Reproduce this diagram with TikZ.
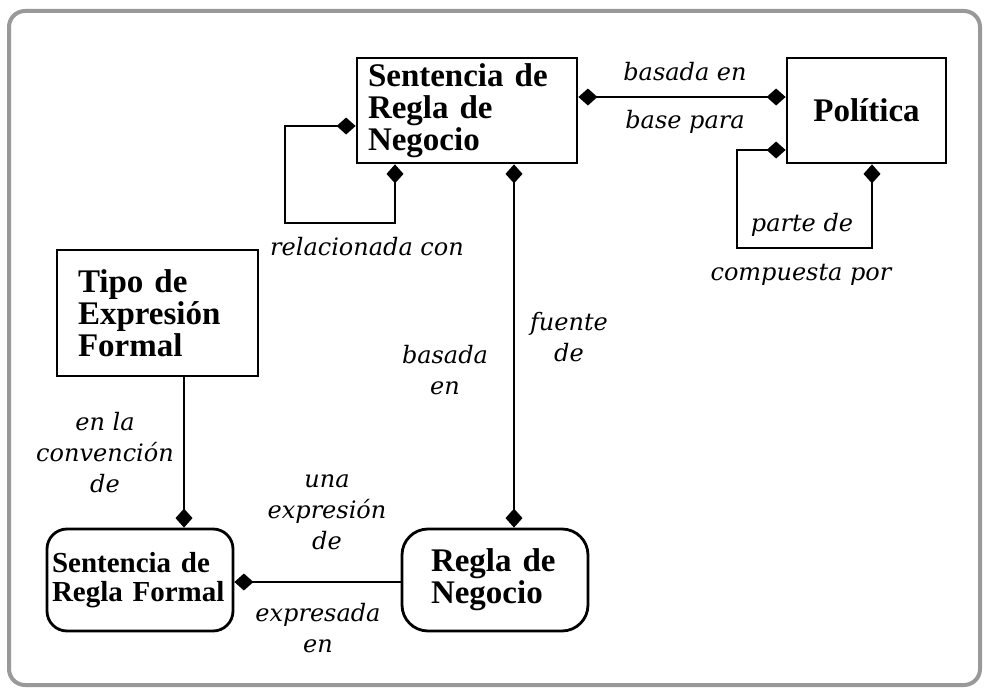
\documentclass[tikz,border=0pt]{standalone}
\usepackage{fontspec}
\setmainfont{Liberation Serif}
\newfontfamily\labfont{DejaVu Serif}
\usetikzlibrary{arrows.meta}
\tikzset{
  ent/.style={draw, line width=2.8pt, font=\bfseries\fontsize{33}{32}\selectfont, inner sep=0pt, align=left},
  lab/.style={font=\labfont\itshape\fontsize{24}{31}\selectfont, align=center, inner sep=0pt},
  conn/.style={line width=2.8pt},
  dia/.tip={Diamond[length=19pt,width=17pt]}
}
\begin{document}
\begin{tikzpicture}[x=1pt,y=-1pt]
\useasboundingbox (0,0) rectangle (988,693);
\draw[line width=4pt, gray!80, rounded corners=16pt] (9,11) rectangle (980,685);
% entities
\node[ent, minimum width=220pt, minimum height=105pt, text width=198pt] (srn) at (467,110.5) {Sentencia de\\Regla de\\Negocio};
\node[ent, minimum width=159pt, minimum height=105pt, align=center] (pol) at (866.5,110.5) {Política};
\node[ent, minimum width=201pt, minimum height=126pt, text width=159pt] (tipo) at (157.5,313) {Tipo de\\Expresión\\Formal};
\node[ent, rounded corners=20pt, minimum width=186pt, minimum height=102pt, text width=176pt, font=\bfseries\fontsize{29}{29}\selectfont] (srf) at (140,580) {Sentencia de\\Regla Formal};
\node[ent, rounded corners=26pt, minimum width=186pt, minimum height=102pt, text width=128pt] (rn) at (495,580) {Regla de\\Negocio};
% corner coordinates of loops
\coordinate (l1) at (285,223);
\coordinate (p1) at (737,248);
% connectors
\draw[conn, dia-dia] ([yshift=13.5pt]srn.east) -- ([yshift=13.5pt]pol.west);
\draw[conn, dia-dia] ([yshift=-15.5pt]srn.west) -| (l1) -| ([xshift=-72pt]srn.south);
\draw[conn, dia-dia] ([xshift=47pt]srn.south) -- ([xshift=47pt]srn.south |- rn.north);
\draw[conn, dia-dia] ([yshift=-39.5pt]pol.west) -| (p1) -| ([xshift=5.5pt]pol.south);
\draw[conn, -dia] ([xshift=26.5pt]tipo.south) -- ([xshift=26.5pt]tipo.south |- srf.north);
\draw[conn, dia-] ([yshift=-2pt]srf.east) -- ([yshift=-2pt]rn.west);
% labels
\node[lab] (t1) at (685,72) {basada en};
\node[lab] (t2) at (685,122) {base para};
\node[lab] (t3) at (367,247) {relacionada con};
\node[lab] (t4) at (569,337) {fuente\\de};
\node[lab] (t5) at (445,370) {basada\\en};
\node[lab] (t6) at (802,225) {parte de};
\node[lab] (t7) at (801,275) {compuesta por};
\node[lab] (t8) at (105,453) {en la\\convención\\de};
\node[lab] (t9) at (327,512) {una\\expresión\\de};
\node[lab] (t10) at (318,628) {expresada\\en};
\end{tikzpicture}
\end{document}
